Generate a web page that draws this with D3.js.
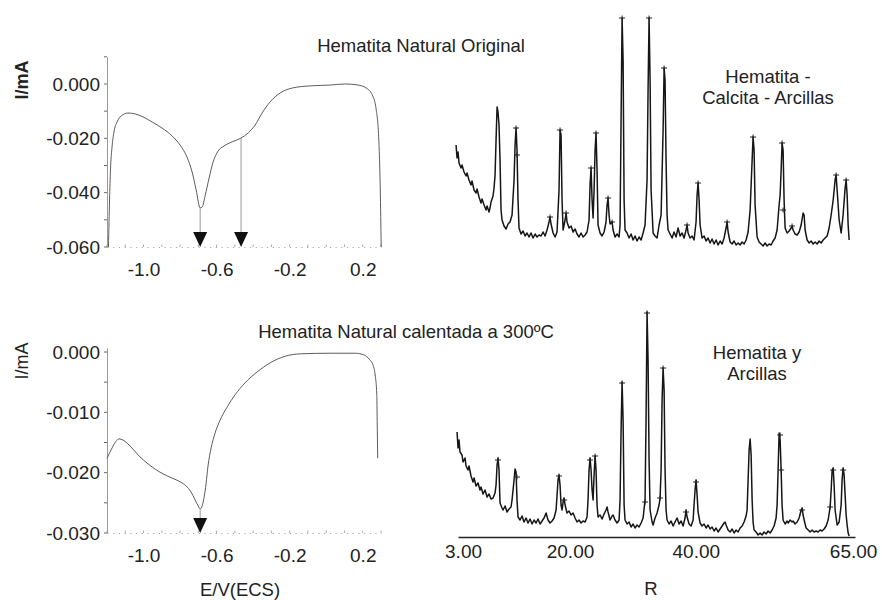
<!DOCTYPE html>
<html>
<head>
<meta charset="utf-8">
<script src="https://cdn.jsdelivr.net/npm/d3@7"></script>
<style>
  body { margin: 0; background: #fff; }
  svg text { font-family: "Liberation Sans", Arial, sans-serif; fill: #222; }
</style>
</head>
<body>
<svg id="chart" width="882" height="600"></svg>
<script>
// ---- voltammograms (E in V vs ECS, I in mA) ----
const cvE1 = [-1.192,-1.186,-1.181,-1.173,-1.162,-1.145,-1.123,-1.085,-1.047,-1.003,-0.953,-0.899,-0.844,-0.800,-0.762,-0.734,-0.712,-0.690,-0.679,-0.663,-0.641,-0.619,-0.592,-0.559,-0.515,-0.466,-0.427,-0.389,-0.351,-0.307,-0.252,-0.186,-0.088,0.022,0.104,0.175,0.219,0.252,0.274,0.288,0.296,0.301];
const cvI1 = [-0.0600,-0.0427,-0.0317,-0.0236,-0.0177,-0.0140,-0.0118,-0.0107,-0.0110,-0.0121,-0.0140,-0.0162,-0.0191,-0.0225,-0.0269,-0.0324,-0.0390,-0.0456,-0.0453,-0.0412,-0.0346,-0.0287,-0.0247,-0.0228,-0.0213,-0.0199,-0.0180,-0.0151,-0.0107,-0.0066,-0.0033,-0.0015,-0.0007,-0.0004,0.0000,-0.0004,-0.0015,-0.0040,-0.0096,-0.0206,-0.0390,-0.0600];
const cvE2 = [-1.200,-1.184,-1.167,-1.151,-1.134,-1.112,-1.090,-1.058,-1.019,-0.981,-0.937,-0.893,-0.844,-0.800,-0.767,-0.740,-0.718,-0.701,-0.690,-0.679,-0.668,-0.658,-0.647,-0.630,-0.608,-0.581,-0.542,-0.499,-0.444,-0.378,-0.307,-0.225,-0.142,0.022,0.159,0.208,0.236,0.258,0.268,0.277,0.279,0.282];
const cvI2 = [-0.0176,-0.0166,-0.0156,-0.0148,-0.0144,-0.0146,-0.0151,-0.0161,-0.0174,-0.0184,-0.0194,-0.0202,-0.0209,-0.0215,-0.0222,-0.0232,-0.0245,-0.0255,-0.0260,-0.0255,-0.0240,-0.0219,-0.0189,-0.0159,-0.0134,-0.0113,-0.0091,-0.0071,-0.0051,-0.0033,-0.0018,-0.0007,-0.0003,-0.0002,-0.0002,-0.0005,-0.0012,-0.0023,-0.0038,-0.0071,-0.0113,-0.0176];
// reduction peaks marked with arrows: [E, I at curve]
const cvArrows1 = [[-0.690, -0.0456], [-0.466, -0.0199]];
const cvArrows2 = [[-0.690, -0.0260]];

const cvXTicks = [-1.0, -0.6, -0.2, 0.2];
const cvYTicks1 = [0, -0.02, -0.04, -0.06];
const cvYTicks2 = [0, -0.01, -0.02, -0.03];

// ---- XRD patterns: [2theta, counts] ----
const xrdTop = [[1.89,1030],[2.05,900],[2.21,960],[2.36,850],[2.68,800],[2.84,830],[3.16,760],[3.48,720],[3.64,750],[3.95,680],[4.27,630],[4.43,670],[4.75,580],[5.07,550],[5.23,590],[5.54,510],[5.86,450],[6.02,490],[6.34,430],[6.66,380],[6.82,420],[7.13,360],[7.29,400],[7.45,460],[7.77,520],[7.93,600],[8.09,730],[8.25,1080],[8.41,1410],[8.56,1360],[8.72,1230],[8.88,880],[9.04,380],[9.20,280],[9.52,220],[9.84,190],[10.15,240],[10.47,260],[10.79,330],[11.11,680],[11.27,1030],[11.43,1200],[11.58,980],[11.74,480],[11.90,200],[12.22,140],[12.54,170],[12.86,120],[13.17,150],[13.49,110],[13.81,150],[14.13,100],[14.45,140],[14.76,110],[15.08,130],[15.40,120],[15.72,160],[16.04,120],[16.35,180],[16.67,260],[16.83,310],[16.99,240],[17.31,150],[17.63,110],[17.94,160],[18.26,580],[18.42,1180],[18.58,1130],[18.74,480],[18.90,180],[19.22,280],[19.38,350],[19.53,260],[19.85,200],[20.17,220],[20.49,160],[20.81,190],[21.12,140],[21.44,110],[21.76,150],[22.08,110],[22.40,130],[22.71,160],[23.03,280],[23.19,630],[23.35,800],[23.51,480],[23.67,300],[23.83,580],[23.99,980],[24.14,1150],[24.30,780],[24.46,230],[24.78,150],[25.10,120],[25.42,160],[25.73,260],[25.89,430],[26.05,500],[26.21,330],[26.37,240],[26.69,260],[26.85,180],[27.16,110],[27.48,140],[27.80,110],[27.96,230],[28.12,1280],[28.28,2300],[28.44,1880],[28.60,480],[28.75,180],[29.07,150],[29.39,100],[29.71,140],[30.03,80],[30.34,120],[30.66,70],[30.98,110],[31.30,80],[31.62,150],[31.93,230],[32.25,680],[32.41,1580],[32.57,2300],[32.73,1680],[32.89,580],[33.21,150],[33.52,120],[33.84,100],[34.16,230],[34.48,330],[34.80,1180],[34.96,1800],[35.11,1680],[35.27,880],[35.43,330],[35.59,180],[35.91,140],[36.23,100],[36.54,160],[36.86,110],[37.18,200],[37.50,120],[37.82,150],[38.13,100],[38.45,180],[38.61,230],[38.77,150],[39.09,100],[39.41,120],[39.72,80],[40.04,260],[40.20,530],[40.36,650],[40.52,480],[40.68,230],[40.99,100],[41.31,120],[41.63,70],[41.95,100],[42.27,50],[42.58,90],[42.90,40],[43.22,80],[43.54,30],[43.86,70],[44.18,40],[44.49,100],[44.81,200],[44.97,260],[45.13,160],[45.45,60],[45.77,40],[46.08,70],[46.40,30],[46.72,50],[47.04,30],[47.36,60],[47.67,40],[47.99,80],[48.31,160],[48.63,380],[48.95,880],[49.10,1110],[49.26,980],[49.42,430],[49.74,110],[50.06,60],[50.38,40],[50.69,20],[51.01,50],[51.33,20],[51.65,40],[51.97,30],[52.28,70],[52.60,100],[52.92,180],[53.24,430],[53.40,530],[53.56,780],[53.71,1050],[53.87,980],[54.03,480],[54.19,200],[54.51,150],[54.83,170],[55.15,200],[55.30,220],[55.46,180],[55.78,140],[56.10,130],[56.42,160],[56.74,230],[57.05,350],[57.21,330],[57.37,180],[57.69,80],[58.01,50],[58.33,70],[58.64,40],[58.96,60],[59.28,40],[59.60,70],[59.92,50],[60.23,80],[60.55,100],[60.87,120],[61.19,200],[61.51,330],[61.83,480],[62.14,680],[62.30,730],[62.46,580],[62.78,280],[63.10,150],[63.41,330],[63.73,600],[63.89,680],[64.05,530],[64.21,230],[64.37,80]];
const xrdTopMarks = [[11.43,1200],[11.58,930],[16.83,310],[18.42,1180],[19.38,350],[23.35,800],[24.14,1150],[26.05,500],[26.69,260],[28.28,2300],[32.57,2300],[34.96,1800],[38.61,230],[40.36,650],[44.97,260],[49.10,1110],[53.71,1050],[53.87,380],[55.30,220],[62.30,730],[63.89,680]];

const xrdBottom = [[2.05,1080],[2.21,920],[2.36,1000],[2.52,880],[2.84,850],[3.00,780],[3.32,820],[3.48,740],[3.79,700],[3.95,740],[4.27,640],[4.59,580],[4.75,620],[5.07,540],[5.38,570],[5.70,500],[5.86,530],[6.18,460],[6.50,500],[6.82,430],[7.13,460],[7.45,410],[7.77,420],[8.09,470],[8.25,550],[8.41,750],[8.56,820],[8.72,700],[8.88,370],[9.20,320],[9.36,300],[9.68,340],[9.99,280],[10.31,310],[10.63,330],[10.79,400],[11.11,600],[11.27,710],[11.43,680],[11.58,400],[11.74,230],[12.06,200],[12.38,240],[12.70,180],[13.02,220],[13.33,170],[13.65,210],[13.97,160],[14.29,200],[14.61,170],[14.92,210],[15.24,160],[15.56,190],[15.88,220],[16.20,270],[16.51,200],[16.83,170],[17.15,190],[17.47,220],[17.79,300],[18.10,600],[18.26,650],[18.42,550],[18.58,350],[18.74,300],[18.90,380],[19.06,420],[19.22,350],[19.53,270],[19.85,290],[20.17,250],[20.49,270],[20.81,220],[21.12,180],[21.44,200],[21.76,170],[22.08,190],[22.40,180],[22.71,230],[22.87,400],[23.03,700],[23.19,820],[23.35,700],[23.51,500],[23.67,400],[23.83,650],[23.99,840],[24.14,700],[24.30,350],[24.46,230],[24.78,250],[25.10,210],[25.42,260],[25.73,300],[25.89,330],[26.05,280],[26.37,200],[26.69,240],[26.85,250],[27.16,200],[27.48,170],[27.80,200],[27.96,400],[28.12,1100],[28.28,1580],[28.44,1200],[28.60,350],[28.75,200],[29.07,160],[29.39,180],[29.71,130],[30.03,160],[30.34,120],[30.66,150],[30.98,130],[31.30,170],[31.62,220],[31.93,400],[32.09,1200],[32.25,2280],[32.41,1800],[32.57,800],[32.73,300],[33.05,180],[33.21,150],[33.52,220],[33.84,270],[34.16,350],[34.32,420],[34.48,700],[34.64,1400],[34.80,1720],[34.96,1500],[35.11,700],[35.27,300],[35.43,200],[35.75,160],[36.07,190],[36.39,140],[36.70,180],[37.02,220],[37.34,160],[37.66,190],[37.98,140],[38.29,220],[38.45,300],[38.61,230],[38.93,160],[39.25,140],[39.57,200],[39.72,350],[39.88,500],[40.04,600],[40.20,450],[40.36,280],[40.68,170],[40.99,140],[41.31,160],[41.63,120],[41.95,150],[42.27,110],[42.58,130],[42.90,90],[43.22,120],[43.54,80],[43.86,110],[44.18,140],[44.49,170],[44.65,180],[44.81,150],[45.13,100],[45.45,80],[45.77,110],[46.08,70],[46.40,100],[46.72,80],[47.04,120],[47.36,140],[47.67,180],[47.99,240],[48.15,300],[48.31,600],[48.47,900],[48.63,1010],[48.79,850],[48.95,400],[49.10,180],[49.26,100],[49.58,80],[49.90,50],[50.22,70],[50.53,50],[50.85,80],[51.17,60],[51.49,90],[51.81,70],[52.12,100],[52.44,140],[52.76,220],[52.92,350],[53.08,700],[53.24,1070],[53.40,1000],[53.56,700],[53.71,350],[53.87,200],[54.19,160],[54.51,190],[54.67,170],[54.99,200],[55.30,180],[55.46,190],[55.78,160],[56.10,180],[56.42,220],[56.74,300],[56.90,320],[57.05,250],[57.37,160],[57.53,120],[57.85,100],[58.17,80],[58.48,100],[58.80,80],[59.12,90],[59.44,80],[59.76,100],[60.07,90],[60.39,110],[60.71,140],[61.03,200],[61.35,330],[61.51,500],[61.67,700],[61.83,720],[61.98,550],[62.14,300],[62.46,150],[62.78,180],[63.10,350],[63.25,600],[63.41,720],[63.57,650],[63.73,450],[63.89,250],[64.05,150],[64.21,70],[64.37,40]];
const xrdBottomMarks = [[8.56,800],[11.58,630],[18.26,640],[19.06,400],[23.19,800],[23.99,840],[28.28,1570],[31.93,380],[32.25,2270],[34.32,420],[34.80,1720],[38.45,280],[40.04,580],[53.40,1050],[53.56,700],[56.90,300],[61.35,330],[61.83,700],[63.41,700]];

const xrdXTicks = [3, 20, 40, 65];

const FONT = '"Liberation Sans", Arial, sans-serif';
const svg = d3.select("#chart");

// ---------- voltammogram panels ----------
const cvX = d3.scaleLinear().domain([-1.2, 0.3]).range([107, 381]);
const cvY1 = d3.scaleLinear().domain([-0.06, 0.01]).range([247, 56.8]);
const cvY2 = d3.scaleLinear().domain([-0.03, 0.0007]).range([533, 347.8]);

function drawCV(yScale, E, I, yTicks, minorCount, arrows) {
  const base = yScale(yTicks[yTicks.length - 1]);
  const g = svg.append("g");

  // dotted x axis with little ticks
  const xa = g.append("g")
    .attr("transform", `translate(0,${base})`)
    .call(d3.axisBottom(cvX).tickValues(cvXTicks).tickFormat(d => d.toFixed(1))
      .tickSize(0).tickPadding(16));
  xa.attr("font-size", 19).attr("font-family", FONT);
  xa.select(".domain").attr("stroke", "#aaa").attr("stroke-dasharray", "1.2,4.5");
  xa.selectAll("text").attr("fill", "#222");
  g.selectAll(".xminor")
    .data(cvX.ticks(15))
    .join("line")
    .attr("x1", d => cvX(d)).attr("x2", d => cvX(d))
    .attr("y1", base).attr("y2", base - 2.5)
    .attr("stroke", "#aaa").attr("stroke-width", 1);

  // y axis
  const ya = g.append("g")
    .attr("transform", `translate(${cvX.range()[0]},0)`)
    .call(d3.axisLeft(yScale).tickValues(yTicks).tickFormat(d => d.toFixed(3))
      .tickSizeInner(0).tickSizeOuter(0).tickPadding(7));
  ya.attr("font-size", 19).attr("font-family", FONT);
  ya.select(".domain").attr("stroke", "#9a9a9a");
  ya.selectAll("text").attr("fill", "#222");
  g.selectAll(".yminor")
    .data(yScale.ticks(minorCount))
    .join("line")
    .attr("x1", cvX.range()[0] - 3).attr("x2", cvX.range()[0])
    .attr("y1", d => yScale(d)).attr("y2", d => yScale(d))
    .attr("stroke", "#666").attr("stroke-width", 1);

  // curve
  const line = d3.line()
    .x((d, i) => cvX(E[i]))
    .y(d => yScale(d))
    .curve(d3.curveMonotoneX);
  g.append("path")
    .datum(I)
    .attr("d", line)
    .attr("fill", "none")
    .attr("stroke", "#4a4a4a")
    .attr("stroke-width", 0.9);

  // arrows from the peaks down to the axis
  arrows.forEach(([e, i]) => {
    const x = cvX(e);
    g.append("line")
      .attr("x1", x).attr("x2", x)
      .attr("y1", yScale(i)).attr("y2", base - 12)
      .attr("stroke", "#999").attr("stroke-width", 1);
    g.append("path")
      .attr("d", `M${x - 7},${base - 15}L${x + 7},${base - 15}L${x},${base}Z`)
      .attr("fill", "#111");
  });
}

drawCV(cvY1, cvE1, cvI1, cvYTicks1, 7, cvArrows1);
drawCV(cvY2, cvE2, cvI2, cvYTicks2, 6, cvArrows2);

// ---------- XRD panels ----------
const xrdX = d3.scaleLinear().domain([2.2, 65.3]).range([458, 855]);
const xrdYTop = d3.scaleLinear().domain([0, 2300]).range([248, 18]);
const xrdYBot = d3.scaleLinear().domain([0, 2280]).range([540, 312]);

function drawXRD(yScale, data, marks) {
  const g = svg.append("g");
  g.append("path")
    .datum(data)
    .attr("d", d3.line().x(d => xrdX(d[0])).y(d => yScale(d[1])))
    .attr("fill", "none")
    .attr("stroke", "#161616")
    .attr("stroke-width", 1.5)
    .attr("stroke-linejoin", "round");
  g.selectAll(".mark")
    .data(marks)
    .join("path")
    .attr("d", d => {
      const x = xrdX(d[0]), y = yScale(d[1]);
      return `M${x - 3},${y}H${x + 3}M${x},${y - 2.5}V${y + 2.5}`;
    })
    .attr("stroke", "#222")
    .attr("stroke-width", 1);
}

drawXRD(xrdYTop, xrdTop, xrdTopMarks);
drawXRD(xrdYBot, xrdBottom, xrdBottomMarks);

const xa = svg.append("g")
  .attr("transform", "translate(0,537)")
  .call(d3.axisBottom(xrdX).tickValues(xrdXTicks).tickFormat(d => d.toFixed(2))
    .tickSize(0).tickPadding(8));
xa.attr("font-size", 19).attr("font-family", FONT);
xa.select(".domain").attr("stroke", "#222").attr("stroke-width", 1.6);
xa.selectAll("text").attr("fill", "#222");

// ---------- texts ----------
const labels = [
  { t: "Hematita Natural Original", x: 421, y: 52, a: "middle", s: 18.5 },
  { t: "Hematita Natural calentada a 300ºC", x: 406, y: 338, a: "middle", s: 18.5 },
  { t: "Hematita -", x: 768, y: 83, a: "middle", s: 18.5 },
  { t: "Calcita - Arcillas", x: 768, y: 104, a: "middle", s: 18.5 },
  { t: "Hematita y", x: 757, y: 359, a: "middle", s: 18.5 },
  { t: "Arcillas", x: 757, y: 380, a: "middle", s: 18.5 },
  { t: "E/V(ECS)", x: 240, y: 596, a: "middle", s: 18.5 },
  { t: "R", x: 651, y: 595, a: "middle", s: 18.5 }
];
svg.selectAll(".lbl")
  .data(labels)
  .join("text")
  .attr("x", d => d.x).attr("y", d => d.y)
  .attr("text-anchor", d => d.a)
  .attr("font-size", d => d.s)
  .text(d => d.t);

svg.append("text")
  .attr("transform", "translate(28,80) rotate(-90)")
  .attr("text-anchor", "middle")
  .attr("font-size", 18)
  .attr("font-weight", "bold")
  .text("I/mA");
svg.append("text")
  .attr("transform", "translate(28,361) rotate(-90)")
  .attr("text-anchor", "middle")
  .attr("font-size", 18)
  .text("I/mA");
</script>
</body>
</html>
